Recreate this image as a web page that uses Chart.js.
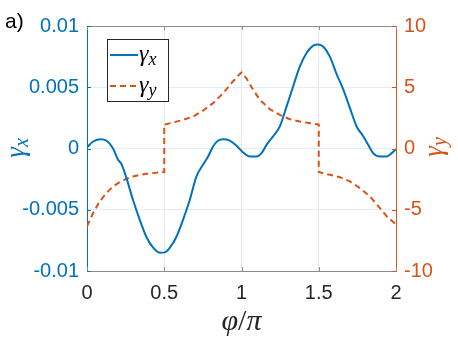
<!DOCTYPE html>
<html>
<head>
<meta charset="utf-8">
<script src="https://cdn.jsdelivr.net/npm/chart.js@4"></script>
<style>
  html, body { margin: 0; padding: 0; background: #fff; }
  canvas { display: block; }
</style>
</head>
<body>
<canvas id="chart" width="458" height="341"></canvas>
<script>
// phi/pi samples and gamma_x (left axis)
const phiX = [0, 0.04, 0.09, 0.125, 0.168, 0.2, 0.222, 0.255, 0.298, 0.341, 0.384, 0.428, 0.471, 0.503, 0.536,
    0.579, 0.622, 0.665, 0.708, 0.752, 0.784, 0.816, 0.849, 0.881, 0.924, 0.968, 1.011, 1.054, 1.097, 1.13,
    1.162, 1.205, 1.248, 1.291, 1.335, 1.378, 1.421, 1.464, 1.497, 1.53, 1.572, 1.615, 1.659, 1.702, 1.745,
    1.788, 1.82, 1.853, 1.896, 1.94, 1.972, 2.0];
const gammaX = [0.0001, 0.00057, 0.00076, 0.00065, 0.00003, -0.0009, -0.00125, -0.0024, -0.0042, -0.0058, -0.0072,
    -0.0081, -0.0085, -0.00848, -0.0081, -0.0072, -0.0058, -0.0042, -0.0023, -0.0013, -0.00065, 0.00016, 0.00065,
    0.00076, 0.00065, 0.00022, -0.00033, -0.00065, -0.00065, -0.00038, 0.0003, 0.001, 0.0018, 0.0034, 0.0051,
    0.0067, 0.0078, 0.0084, 0.0085, 0.0083, 0.0075, 0.0061, 0.0048, 0.0033, 0.0018, 0.001, 0.0003, -0.0004,
    -0.00065, -0.00065, -0.00038, -0.00005];

// phi/pi samples and gamma_y (right axis), jumps at 0.5 and 1.5
const phiY = [0, 0.04, 0.082, 0.125, 0.168, 0.212, 0.255, 0.298, 0.341, 0.384, 0.428, 0.5, 0.5, 0.557, 0.622,
    0.687, 0.752, 0.816, 0.881, 0.935, 0.978, 1.0, 1.032, 1.076, 1.119, 1.184, 1.248, 1.313, 1.378, 1.443,
    1.5, 1.5, 1.572, 1.637, 1.702, 1.767, 1.831, 1.896, 1.94, 2.0];
const gammaY = [-6.35, -5.27, -4.32, -3.64, -3.1, -2.74, -2.47, -2.28, -2.15, -2.07, -2.01, -1.92, 1.95, 2.12, 2.34,
    2.61, 3.1, 3.7, 4.51, 5.33, 5.95, 6.2, 5.73, 4.78, 3.97, 3.2, 2.74, 2.39, 2.2, 2.07,
    1.95, -1.92, -2.15, -2.34, -2.69, -3.23, -3.91, -4.86, -5.54, -6.2];

const xTicks = [0, 0.5, 1, 1.5, 2];
const leftTicks = [-0.01, -0.005, 0, 0.005, 0.01];
const leftTickLabels = ['-0.01', '-0.005', '0', '0.005', '0.01'];
const rightTicks = [-10, -5, 0, 5, 10];

const BLUE = '#0072BD';
const ORANGE = '#D95319';
const AXIS_GRAY = '#8c8c8c';

Chart.defaults.font.family = '"Liberation Sans", Arial, sans-serif';

const toPoints = (xs, ys) => xs.map((x, i) => ({ x: x, y: ys[i] }));

// gamma with italic subscript, left baseline at (x, y)
function drawGamma(ctx, sub, x, y, size, subSize, drop) {
    ctx.font = `italic ${size}px "Liberation Serif", "DejaVu Serif", serif`;
    ctx.textAlign = 'left';
    ctx.textBaseline = 'alphabetic';
    ctx.fillText('γ', x, y);
    const w = ctx.measureText('γ').width;
    ctx.font = `italic ${subSize}px "Liberation Serif", "DejaVu Serif", serif`;
    ctx.fillText(sub, x + w, y + drop);
    return w + ctx.measureText(sub).width;
}

function gammaWidth(ctx, sub, size, subSize) {
    ctx.font = `italic ${size}px "Liberation Serif", serif`;
    const w = ctx.measureText('γ').width;
    ctx.font = `italic ${subSize}px "Liberation Serif", serif`;
    return w + ctx.measureText(sub).width;
}

const decorations = {
    id: 'decorations',
    afterDraw(chart) {
        const { ctx, chartArea: a, scales } = chart;
        ctx.save();

        // top box line
        ctx.strokeStyle = AXIS_GRAY;
        ctx.lineWidth = 1;
        ctx.beginPath();
        ctx.moveTo(a.left, a.top + 0.5);
        ctx.lineTo(a.right, a.top + 0.5);
        ctx.stroke();

        // inward tick marks
        const tl = 4;
        xTicks.forEach(v => {
            const px = Math.round(scales.x.getPixelForValue(v)) + 0.5;
            ctx.beginPath();
            ctx.moveTo(px, a.bottom); ctx.lineTo(px, a.bottom - tl);
            ctx.moveTo(px, a.top); ctx.lineTo(px, a.top + tl);
            ctx.stroke();
        });
        ctx.strokeStyle = BLUE;
        leftTicks.forEach(v => {
            const py = Math.round(scales.y.getPixelForValue(v)) + 0.5;
            ctx.beginPath();
            ctx.moveTo(a.left, py); ctx.lineTo(a.left + tl, py);
            ctx.stroke();
        });
        ctx.strokeStyle = ORANGE;
        rightTicks.forEach(v => {
            const py = Math.round(scales.y2.getPixelForValue(v)) + 0.5;
            ctx.beginPath();
            ctx.moveTo(a.right, py); ctx.lineTo(a.right - tl, py);
            ctx.stroke();
        });

        // panel tag
        ctx.fillStyle = '#000';
        ctx.font = '21px "Liberation Sans", Arial, sans-serif';
        ctx.textAlign = 'left';
        ctx.textBaseline = 'alphabetic';
        ctx.fillText('a)', 5, 28);

        // x axis title
        ctx.fillStyle = '#262626';
        ctx.font = 'italic 30px "Liberation Serif", serif';
        const wPhi = ctx.measureText('φ').width;
        ctx.font = '30px "Liberation Serif", serif';
        const wSl = ctx.measureText('/').width;
        ctx.font = 'italic 30px "Liberation Serif", serif';
        const wPi = ctx.measureText('π').width;
        let tx = (a.left + a.right) / 2 - (wPhi + wSl + wPi) / 2;
        const ty = 330;
        ctx.fillText('φ', tx, ty); tx += wPhi;
        ctx.font = '30px "Liberation Serif", serif';
        ctx.fillText('/', tx, ty); tx += wSl;
        ctx.font = 'italic 30px "Liberation Serif", serif';
        ctx.fillText('π', tx, ty);

        // y axis titles, rotated
        [[19, 148, 'x', BLUE], [437, 147, 'y', ORANGE]].forEach(([cx, cy, sub, col]) => {
            ctx.save();
            ctx.translate(cx, cy);
            ctx.rotate(-Math.PI / 2);
            ctx.fillStyle = col;
            const w = gammaWidth(ctx, sub, 27, 20);
            drawGamma(ctx, sub, -w / 2, 5, 27, 20, 4);
            ctx.restore();
        });

        // legend
        const lx = a.left + 20, ly = a.top + 13;
        ctx.fillStyle = '#fff';
        ctx.fillRect(lx, ly, 61, 62);
        ctx.strokeStyle = '#262626';
        ctx.lineWidth = 1;
        ctx.strokeRect(lx + 0.5, ly + 0.5, 61, 62);

        ctx.lineWidth = 2;
        ctx.strokeStyle = BLUE;
        ctx.beginPath();
        ctx.moveTo(lx + 3, ly + 16); ctx.lineTo(lx + 31, ly + 16);
        ctx.stroke();
        ctx.strokeStyle = ORANGE;
        ctx.setLineDash([6, 4]);
        ctx.beginPath();
        ctx.moveTo(lx + 3, ly + 47); ctx.lineTo(lx + 31, ly + 47);
        ctx.stroke();
        ctx.setLineDash([]);

        ctx.fillStyle = '#000';
        drawGamma(ctx, 'x', lx + 32, ly + 22, 24, 18, 4);
        drawGamma(ctx, 'y', lx + 32, ly + 53, 24, 18, 4);

        ctx.restore();
    }
};

new Chart(document.getElementById('chart'), {
    type: 'line',
    data: {
        datasets: [
            {
                label: 'γx',
                data: toPoints(phiX, gammaX),
                yAxisID: 'y',
                borderColor: BLUE,
                borderWidth: 2,
                pointRadius: 0,
                cubicInterpolationMode: 'monotone',
                fill: false
            },
            {
                label: 'γy',
                data: toPoints(phiY, gammaY),
                yAxisID: 'y2',
                borderColor: ORANGE,
                borderWidth: 2,
                borderDash: [6, 4],
                pointRadius: 0,
                tension: 0,
                fill: false
            }
        ]
    },
    options: {
        responsive: false,
        devicePixelRatio: 1,
        animation: false,
        layout: { padding: { top: 26, left: 0, right: 0, bottom: 0 } },
        plugins: {
            legend: { display: false },
            tooltip: { enabled: false }
        },
        scales: {
            x: {
                type: 'linear',
                min: 0,
                max: 2,
                afterFit: s => { s.height = 70; },
                afterBuildTicks: s => { s.ticks = xTicks.map(v => ({ value: v })); },
                ticks: {
                    color: '#262626',
                    font: { size: 20 },
                    padding: 10,
                    maxRotation: 0,
                    callback: v => String(v)
                },
                grid: { color: '#e6e6e6', drawTicks: false },
                border: { color: AXIS_GRAY, width: 1 }
            },
            y: {
                position: 'left',
                min: -0.01,
                max: 0.01,
                afterFit: s => { s.width = 87; },
                afterBuildTicks: s => { s.ticks = leftTicks.map(v => ({ value: v })); },
                ticks: {
                    color: BLUE,
                    font: { size: 20 },
                    padding: 8,
                    callback: v => leftTickLabels[leftTicks.findIndex(t => Math.abs(t - v) < 1e-9)]
                },
                grid: { color: '#e4edf6', drawTicks: false },
                border: { color: BLUE, width: 1 }
            },
            y2: {
                position: 'right',
                min: -10,
                max: 10,
                afterFit: s => { s.width = 62; },
                afterBuildTicks: s => { s.ticks = rightTicks.map(v => ({ value: v })); },
                ticks: {
                    color: ORANGE,
                    font: { size: 20 },
                    padding: 8,
                    callback: v => String(v)
                },
                grid: { display: false, drawTicks: false },
                border: { color: ORANGE, width: 1 }
            }
        }
    },
    plugins: [decorations]
});
</script>
</body>
</html>
